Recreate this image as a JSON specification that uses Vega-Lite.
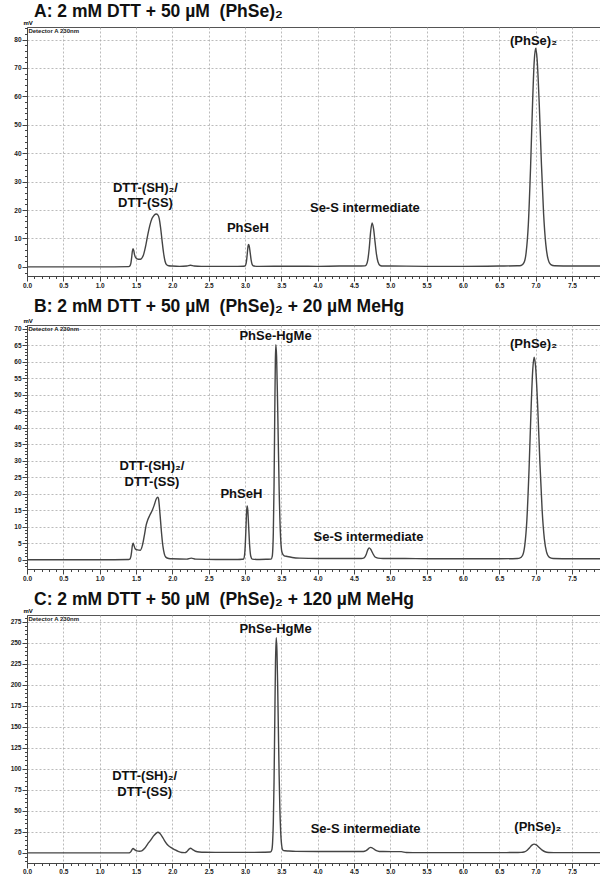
{
  "$schema": "https://vega.github.io/schema/vega-lite/v6.json",
  "padding": {"left": 6, "top": 2, "right": 0, "bottom": 0},
  "background": "white",
  "spacing": 8,
  "config": {
    "view": {"stroke": "#555", "strokeWidth": 1},
    "axis": {
      "labelFont": "Liberation Sans", "labelFontSize": 6.5, "labelFontWeight": "bold", "labelColor": "#222",
      "tickColor": "#444", "domainColor": "#444", "gridColor": "#aaa", "gridDash": [2, 2], "gridWidth": 0.8,
      "labelOverlap": false, "labelFlush": false, "labelBound": false, "labelPadding": 1,
      "titleFont": "Liberation Sans", "titleFontSize": 6, "titleFontWeight": "bold"
    },
    "title": {"font": "Liberation Sans", "fontSize": 17.5, "fontWeight": "bold", "color": "#111", "anchor": "start", "frame": "group", "dx": 7}
  },
  "datasets": {
    "A": [
      {"t":0,"v":0},{"t":0.5,"v":0},{"t":1.0,"v":0},{"t":1.40,"v":0.1},{"t":1.415,"v":0.3},{"t":1.43,"v":1.3},{"t":1.44,"v":3.2},{"t":1.45,"v":5.5},{"t":1.46,"v":6.4},{"t":1.47,"v":5.7},{"t":1.48,"v":4.3},{"t":1.50,"v":3.1},{"t":1.53,"v":2.7},{"t":1.56,"v":2.7},{"t":1.60,"v":4.0},{"t":1.63,"v":7.0},{"t":1.66,"v":11.0},{"t":1.69,"v":14.5},{"t":1.72,"v":17.0},{"t":1.75,"v":18.2},{"t":1.78,"v":18.6},{"t":1.80,"v":18.3},{"t":1.82,"v":17.0},{"t":1.84,"v":13.5},{"t":1.86,"v":9.0},{"t":1.88,"v":4.8},{"t":1.90,"v":2.0},{"t":1.92,"v":0.8},{"t":1.95,"v":0.4},{"t":2.0,"v":0.3},{"t":2.1,"v":0.2},{"t":2.2,"v":0.3},{"t":2.25,"v":0.6},{"t":2.3,"v":0.3},{"t":2.4,"v":0.2},{"t":2.6,"v":0.2},{"t":2.9,"v":0.2},{"t":2.98,"v":0.25},{"t":3.0,"v":0.3},{"t":3.015,"v":1.15},{"t":3.025,"v":2.9},{"t":3.035,"v":5.6},{"t":3.043,"v":7.4},{"t":3.05,"v":7.9},{"t":3.058,"v":7.4},{"t":3.07,"v":5.3},{"t":3.085,"v":2.4},{"t":3.10,"v":0.8},{"t":3.12,"v":0.3},{"t":3.2,"v":0.2},{"t":3.6,"v":0.25},{"t":4.0,"v":0.2},{"t":4.3,"v":0.3},{"t":4.6,"v":0.3},{"t":4.65,"v":0.35},{"t":4.67,"v":0.7},{"t":4.69,"v":2.35},{"t":4.71,"v":6.55},{"t":4.73,"v":12.5},{"t":4.75,"v":15.5},{"t":4.77,"v":13.4},{"t":4.79,"v":8.8},{"t":4.81,"v":4.4},{"t":4.83,"v":1.8},{"t":4.86,"v":0.5},{"t":4.9,"v":0.3},{"t":5.0,"v":0.3},{"t":5.5,"v":0.2},{"t":6.0,"v":0.2},{"t":6.5,"v":0.3},{"t":6.75,"v":0.4},{"t":6.80,"v":0.5},{"t":6.84,"v":1.5},{"t":6.87,"v":5.1},{"t":6.90,"v":15.0},{"t":6.93,"v":34.5},{"t":6.96,"v":59.1},{"t":6.98,"v":71.9},{"t":7.0,"v":76.9},{"t":7.02,"v":73.3},{"t":7.05,"v":57.3},{"t":7.08,"v":36.3},{"t":7.11,"v":18.7},{"t":7.14,"v":8.0},{"t":7.17,"v":2.9},{"t":7.21,"v":0.8},{"t":7.26,"v":0.4},{"t":7.5,"v":0.3},{"t":7.9,"v":0.3}
    ],
    "B": [
      {"t":0,"v":0},{"t":0.5,"v":0},{"t":1.0,"v":0},{"t":1.40,"v":0.1},{"t":1.415,"v":0.2},{"t":1.43,"v":1.0},{"t":1.44,"v":2.5},{"t":1.45,"v":4.3},{"t":1.46,"v":5.0},{"t":1.47,"v":4.5},{"t":1.49,"v":3.3},{"t":1.52,"v":3.0},{"t":1.56,"v":2.9},{"t":1.59,"v":4.5},{"t":1.62,"v":8.0},{"t":1.64,"v":10.5},{"t":1.66,"v":12.0},{"t":1.69,"v":13.5},{"t":1.72,"v":14.8},{"t":1.75,"v":16.5},{"t":1.78,"v":18.5},{"t":1.80,"v":19.0},{"t":1.81,"v":18.5},{"t":1.83,"v":14.0},{"t":1.85,"v":8.5},{"t":1.87,"v":4.2},{"t":1.89,"v":1.8},{"t":1.91,"v":0.8},{"t":1.95,"v":0.4},{"t":2.0,"v":0.3},{"t":2.2,"v":0.2},{"t":2.26,"v":0.5},{"t":2.32,"v":0.2},{"t":2.6,"v":0.1},{"t":2.9,"v":0.1},{"t":2.96,"v":0.15},{"t":2.98,"v":0.23},{"t":2.995,"v":1.6},{"t":3.005,"v":4.9},{"t":3.015,"v":10.5},{"t":3.023,"v":14.8},{"t":3.03,"v":16.3},{"t":3.038,"v":15.2},{"t":3.05,"v":10.4},{"t":3.065,"v":4.1},{"t":3.08,"v":1.06},{"t":3.10,"v":0.2},{"t":3.2,"v":0.1},{"t":3.30,"v":0.15},{"t":3.36,"v":0.2},{"t":3.375,"v":1.0},{"t":3.39,"v":8.0},{"t":3.40,"v":22.3},{"t":3.41,"v":44.4},{"t":3.418,"v":60.0},{"t":3.425,"v":65.2},{"t":3.435,"v":61.7},{"t":3.45,"v":46.3},{"t":3.47,"v":21.6},{"t":3.49,"v":6.9},{"t":3.51,"v":2.2},{"t":3.54,"v":1.2},{"t":3.58,"v":1.0},{"t":3.65,"v":0.7},{"t":3.75,"v":0.5},{"t":4.0,"v":0.4},{"t":4.3,"v":0.4},{"t":4.6,"v":0.4},{"t":4.64,"v":0.6},{"t":4.67,"v":1.7},{"t":4.69,"v":3.0},{"t":4.71,"v":3.6},{"t":4.73,"v":3.2},{"t":4.76,"v":1.9},{"t":4.79,"v":0.83},{"t":4.83,"v":0.5},{"t":4.9,"v":0.4},{"t":5.2,"v":0.4},{"t":5.5,"v":0.3},{"t":6.0,"v":0.3},{"t":6.5,"v":0.3},{"t":6.75,"v":0.4},{"t":6.78,"v":0.5},{"t":6.82,"v":1.3},{"t":6.85,"v":4.2},{"t":6.88,"v":12.1},{"t":6.91,"v":27.6},{"t":6.94,"v":47.2},{"t":6.96,"v":57.4},{"t":6.98,"v":61.4},{"t":7.0,"v":58.5},{"t":7.03,"v":45.8},{"t":7.06,"v":29.0},{"t":7.09,"v":15.0},{"t":7.12,"v":6.4},{"t":7.15,"v":2.4},{"t":7.19,"v":0.73},{"t":7.24,"v":0.4},{"t":7.5,"v":0.3},{"t":7.9,"v":0.3}
    ],
    "C": [
      {"t":0,"v":0},{"t":0.5,"v":0},{"t":1.0,"v":0},{"t":1.40,"v":0.1},{"t":1.415,"v":0.3},{"t":1.43,"v":1.5},{"t":1.45,"v":4.5},{"t":1.46,"v":5.2},{"t":1.48,"v":4.0},{"t":1.51,"v":2.5},{"t":1.55,"v":2.0},{"t":1.58,"v":2.5},{"t":1.62,"v":5.5},{"t":1.66,"v":10.5},{"t":1.70,"v":15.0},{"t":1.74,"v":20.0},{"t":1.78,"v":23.5},{"t":1.80,"v":24.5},{"t":1.83,"v":23.0},{"t":1.86,"v":19.5},{"t":1.89,"v":15.0},{"t":1.93,"v":10.0},{"t":1.97,"v":7.0},{"t":2.00,"v":5.5},{"t":2.04,"v":3.5},{"t":2.08,"v":1.8},{"t":2.13,"v":0.5},{"t":2.17,"v":0.3},{"t":2.20,"v":1.5},{"t":2.23,"v":4.5},{"t":2.25,"v":5.5},{"t":2.28,"v":4.0},{"t":2.32,"v":2.0},{"t":2.37,"v":1.0},{"t":2.45,"v":0.7},{"t":2.7,"v":0.6},{"t":3.0,"v":0.6},{"t":3.25,"v":0.8},{"t":3.35,"v":1.0},{"t":3.37,"v":3.8},{"t":3.38,"v":12.2},{"t":3.39,"v":35.5},{"t":3.40,"v":83.8},{"t":3.41,"v":155.7},{"t":3.42,"v":226},{"t":3.43,"v":256},{"t":3.44,"v":240.7},{"t":3.45,"v":199.1},{"t":3.46,"v":145.3},{"t":3.47,"v":93.3},{"t":3.48,"v":53.3},{"t":3.49,"v":27.8},{"t":3.50,"v":13.2},{"t":3.52,"v":3.5},{"t":3.55,"v":2.5},{"t":3.60,"v":2.2},{"t":3.7,"v":1.8},{"t":4.0,"v":1.6},{"t":4.3,"v":1.6},{"t":4.63,"v":1.7},{"t":4.66,"v":2.3},{"t":4.69,"v":4.2},{"t":4.71,"v":5.85},{"t":4.73,"v":6.6},{"t":4.75,"v":6.1},{"t":4.78,"v":4.3},{"t":4.81,"v":2.6},{"t":4.85,"v":1.75},{"t":4.9,"v":1.6},{"t":5.15,"v":1.5},{"t":5.22,"v":0.5},{"t":5.4,"v":0.3},{"t":6.0,"v":0.3},{"t":6.6,"v":0.4},{"t":6.75,"v":0.5},{"t":6.80,"v":0.6},{"t":6.84,"v":1.06},{"t":6.88,"v":2.9},{"t":6.92,"v":6.5},{"t":6.95,"v":9.2},{"t":6.98,"v":10.4},{"t":7.01,"v":9.5},{"t":7.05,"v":6.5},{"t":7.09,"v":3.3},{"t":7.13,"v":1.4},{"t":7.18,"v":0.57},{"t":7.25,"v":0.4},{"t":7.9,"v":0.4}
    ],
    "labA": [
      {"t":1.63,"v":27.9,"text":"DTT-(SH)₂/"},
      {"t":1.63,"v":22.6,"text":"DTT-(SS)"},
      {"t":3.04,"v":13.8,"text":"PhSeH"},
      {"t":4.65,"v":20.8,"text":"Se-S intermediate"},
      {"t":6.97,"v":79.4,"text":"(PhSe)₂"}
    ],
    "labB": [
      {"t":1.72,"v":28.5,"text":"DTT-(SH)₂/"},
      {"t":1.72,"v":23.5,"text":"DTT-(SS)"},
      {"t":2.95,"v":19.9,"text":"PhSeH"},
      {"t":3.42,"v":67.9,"text":"PhSe-HgMe"},
      {"t":4.70,"v":6.8,"text":"Se-S intermediate"},
      {"t":6.97,"v":65.5,"text":"(PhSe)₂"}
    ],
    "labC": [
      {"t":1.62,"v":92,"text":"DTT-(SH)₂/"},
      {"t":1.62,"v":72,"text":"DTT-(SS)"},
      {"t":3.42,"v":266.7,"text":"PhSe-HgMe"},
      {"t":4.66,"v":28,"text":"Se-S intermediate"},
      {"t":7.03,"v":30.5,"text":"(PhSe)₂"}
    ]
  },
  "vconcat": [
    {
      "title": {"text": "A: 2 mM DTT + 50 µM\u00a0 (PhSe)₂", "offset": -1},
      "width": 574, "height": 249,
      "encoding": {
        "x": {"field": "t", "type": "quantitative", "title": null,
          "scale": {"domain": [0, 7.9], "nice": false, "zero": false},
          "axis": {"values": [0,0.1,0.2,0.3,0.4,0.5,0.6,0.7,0.8,0.9,1,1.1,1.2,1.3,1.4,1.5,1.6,1.7,1.8,1.9,2,2.1,2.2,2.3,2.4,2.5,2.6,2.7,2.8,2.9,3,3.1,3.2,3.3,3.4,3.5,3.6,3.7,3.8,3.9,4,4.1,4.2,4.3,4.4,4.5,4.6,4.7,4.8,4.9,5,5.1,5.2,5.3,5.4,5.5,5.6,5.7,5.8,5.9,6,6.1,6.2,6.3,6.4,6.5,6.6,6.7,6.8,6.9,7,7.1,7.2,7.3,7.4,7.5,7.6,7.7,7.8,7.9],
            "labelExpr": "abs(datum.value*2-round(datum.value*2))<1e-6 ? format(datum.value, '.1f') : ''",
            "tickSize": {"condition": {"test": "abs(datum.value*2-round(datum.value*2))<1e-6", "value": 5}, "value": 2.5},
            "grid": true,
            "gridOpacity": {"condition": {"test": "abs(datum.value*2-round(datum.value*2))<1e-6", "value": 1}, "value": 0},
            "minExtent": 12, "maxExtent": 12}},
        "y": {"field": "v", "type": "quantitative", "title": "mV",
          "scale": {"domain": [-3.2, 84.4], "nice": false, "zero": false},
          "axis": {"values": [-2,0,2,4,6,8,10,12,14,16,18,20,22,24,26,28,30,32,34,36,38,40,42,44,46,48,50,52,54,56,58,60,62,64,66,68,70,72,74,76,78,80,82,84],
            "labelExpr": "datum.value % 10 === 0 ? datum.label : ''",
            "tickSize": {"condition": {"test": "datum.value % 10 === 0", "value": 5}, "value": 2.5},
            "grid": true,
            "gridOpacity": {"condition": {"test": "datum.value % 10 === 0 && datum.value !== 0", "value": 1}, "value": 0},
            "titleAngle": 0, "titleX": -4, "titleY": -2, "titleAlign": "left", "titleBaseline": "bottom",
            "minExtent": 20, "maxExtent": 20}}
      },
      "layer": [
        {"data": {"name": "A"}, "mark": {"type": "line", "interpolate": "monotone", "color": "#444", "strokeWidth": 1.4}},
        {"data": {"name": "labA"}, "mark": {"type": "text", "font": "Liberation Sans", "fontSize": 13, "fontWeight": "bold", "color": "#111", "baseline": "middle"}, "encoding": {"text": {"field": "text"}}},
        {"data": {"values": [{"t": 0.02, "v": 84.4, "text": "Detector A 230nm"}]}, "mark": {"type": "text", "font": "Liberation Sans", "fontSize": 6, "fontWeight": "bold", "color": "#222", "align": "left", "baseline": "top", "dy": 1}, "encoding": {"text": {"field": "text"}}}
      ]
    },
    {
      "title": {"text": "B: 2 mM DTT + 50 µM\u00a0 (PhSe)₂ + 20 µM MeHg", "offset": 2},
      "width": 574, "height": 244,
      "encoding": {
        "x": {"field": "t", "type": "quantitative", "title": null,
          "scale": {"domain": [0, 7.9], "nice": false, "zero": false},
          "axis": {"values": [0,0.1,0.2,0.3,0.4,0.5,0.6,0.7,0.8,0.9,1,1.1,1.2,1.3,1.4,1.5,1.6,1.7,1.8,1.9,2,2.1,2.2,2.3,2.4,2.5,2.6,2.7,2.8,2.9,3,3.1,3.2,3.3,3.4,3.5,3.6,3.7,3.8,3.9,4,4.1,4.2,4.3,4.4,4.5,4.6,4.7,4.8,4.9,5,5.1,5.2,5.3,5.4,5.5,5.6,5.7,5.8,5.9,6,6.1,6.2,6.3,6.4,6.5,6.6,6.7,6.8,6.9,7,7.1,7.2,7.3,7.4,7.5,7.6,7.7,7.8,7.9],
            "labelExpr": "abs(datum.value*2-round(datum.value*2))<1e-6 ? format(datum.value, '.1f') : ''",
            "tickSize": {"condition": {"test": "abs(datum.value*2-round(datum.value*2))<1e-6", "value": 5}, "value": 2.5},
            "grid": true,
            "gridOpacity": {"condition": {"test": "abs(datum.value*2-round(datum.value*2))<1e-6", "value": 1}, "value": 0},
            "minExtent": 12, "maxExtent": 12}},
        "y": {"field": "v", "type": "quantitative", "title": "mV",
          "scale": {"domain": [-2.8, 71.2], "nice": false, "zero": false},
          "axis": {"values": [-2,-1,0,1,2,3,4,5,6,7,8,9,10,11,12,13,14,15,16,17,18,19,20,21,22,23,24,25,26,27,28,29,30,31,32,33,34,35,36,37,38,39,40,41,42,43,44,45,46,47,48,49,50,51,52,53,54,55,56,57,58,59,60,61,62,63,64,65,66,67,68,69,70,71],
            "labelExpr": "datum.value % 5 === 0 ? datum.label : ''",
            "tickSize": {"condition": {"test": "datum.value % 5 === 0", "value": 5}, "value": 2.5},
            "grid": true,
            "gridOpacity": {"condition": {"test": "datum.value % 5 === 0 && datum.value !== 0", "value": 1}, "value": 0},
            "titleAngle": 0, "titleX": -4, "titleY": -2, "titleAlign": "left", "titleBaseline": "bottom",
            "minExtent": 20, "maxExtent": 20}}
      },
      "layer": [
        {"data": {"name": "B"}, "mark": {"type": "line", "interpolate": "monotone", "color": "#444", "strokeWidth": 1.4}},
        {"data": {"name": "labB"}, "mark": {"type": "text", "font": "Liberation Sans", "fontSize": 13, "fontWeight": "bold", "color": "#111", "baseline": "middle"}, "encoding": {"text": {"field": "text"}}},
        {"data": {"values": [{"t": 0.02, "v": 71.2, "text": "Detector A 230nm"}]}, "mark": {"type": "text", "font": "Liberation Sans", "fontSize": 6, "fontWeight": "bold", "color": "#222", "align": "left", "baseline": "top", "dy": 1}, "encoding": {"text": {"field": "text"}}}
      ]
    },
    {
      "title": {"text": "C: 2 mM DTT + 50 µM\u00a0 (PhSe)₂ + 120 µM MeHg", "offset": -1},
      "width": 574, "height": 248,
      "encoding": {
        "x": {"field": "t", "type": "quantitative", "title": null,
          "scale": {"domain": [0, 7.9], "nice": false, "zero": false},
          "axis": {"values": [0,0.1,0.2,0.3,0.4,0.5,0.6,0.7,0.8,0.9,1,1.1,1.2,1.3,1.4,1.5,1.6,1.7,1.8,1.9,2,2.1,2.2,2.3,2.4,2.5,2.6,2.7,2.8,2.9,3,3.1,3.2,3.3,3.4,3.5,3.6,3.7,3.8,3.9,4,4.1,4.2,4.3,4.4,4.5,4.6,4.7,4.8,4.9,5,5.1,5.2,5.3,5.4,5.5,5.6,5.7,5.8,5.9,6,6.1,6.2,6.3,6.4,6.5,6.6,6.7,6.8,6.9,7,7.1,7.2,7.3,7.4,7.5,7.6,7.7,7.8,7.9],
            "labelExpr": "abs(datum.value*2-round(datum.value*2))<1e-6 ? format(datum.value, '.1f') : ''",
            "tickSize": {"condition": {"test": "abs(datum.value*2-round(datum.value*2))<1e-6", "value": 5}, "value": 2.5},
            "labelPadding": 0,
            "grid": true,
            "gridOpacity": {"condition": {"test": "abs(datum.value*2-round(datum.value*2))<1e-6", "value": 1}, "value": 0},
            "minExtent": 12, "maxExtent": 12}},
        "y": {"field": "v", "type": "quantitative", "title": "mV",
          "scale": {"domain": [-12, 283], "nice": false, "zero": false},
          "axis": {"values": [-10,-5,0,5,10,15,20,25,30,35,40,45,50,55,60,65,70,75,80,85,90,95,100,105,110,115,120,125,130,135,140,145,150,155,160,165,170,175,180,185,190,195,200,205,210,215,220,225,230,235,240,245,250,255,260,265,270,275,280],
            "labelExpr": "datum.value % 25 === 0 ? datum.label : ''",
            "tickSize": {"condition": {"test": "datum.value % 25 === 0", "value": 5}, "value": 2.5},
            "grid": true,
            "gridOpacity": {"condition": {"test": "datum.value % 25 === 0 && datum.value !== 0", "value": 1}, "value": 0},
            "titleAngle": 0, "titleX": -4, "titleY": -2, "titleAlign": "left", "titleBaseline": "bottom",
            "minExtent": 20, "maxExtent": 20}}
      },
      "layer": [
        {"data": {"name": "C"}, "mark": {"type": "line", "interpolate": "monotone", "color": "#444", "strokeWidth": 1.4}},
        {"data": {"name": "labC"}, "mark": {"type": "text", "font": "Liberation Sans", "fontSize": 13, "fontWeight": "bold", "color": "#111", "baseline": "middle"}, "encoding": {"text": {"field": "text"}}},
        {"data": {"values": [{"t": 0.02, "v": 283, "text": "Detector A 230nm"}]}, "mark": {"type": "text", "font": "Liberation Sans", "fontSize": 6, "fontWeight": "bold", "color": "#222", "align": "left", "baseline": "top", "dy": 1}, "encoding": {"text": {"field": "text"}}}
      ]
    }
  ]
}
